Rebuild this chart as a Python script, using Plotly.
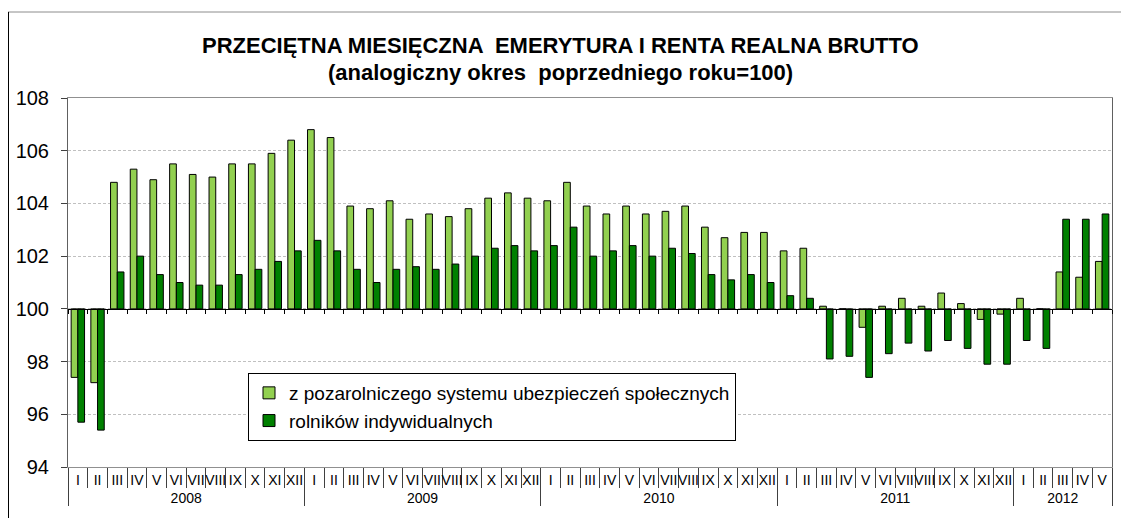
import plotly.graph_objects as go

months = ["I", "II", "III", "IV", "V", "VI", "VII", "VIII", "IX", "X", "XI", "XII"]
years = ["2008", "2009", "2010", "2011", "2012"]
months_per_year = [12, 12, 12, 12, 5]

pozarolniczy = [
    97.4, 97.2, 104.8, 105.3, 104.9, 105.5, 105.1, 105.0, 105.5, 105.5, 105.9, 106.4,
    106.8, 106.5, 103.9, 103.8, 104.1, 103.4, 103.6, 103.5, 103.8, 104.2, 104.4, 104.2,
    104.1, 104.8, 103.9, 103.6, 103.9, 103.6, 103.7, 103.9, 103.1, 102.7, 102.9, 102.9,
    102.2, 102.3, 100.1, 100.0, 99.3, 100.1, 100.4, 100.1, 100.6, 100.2, 99.6, 99.8,
    100.4, 100.0, 101.4, 101.2, 101.8,
]
rolnicy = [
    95.7, 95.4, 101.4, 102.0, 101.3, 101.0, 100.9, 100.9, 101.3, 101.5, 101.8, 102.2,
    102.6, 102.2, 101.5, 101.0, 101.5, 101.6, 101.5, 101.7, 102.0, 102.3, 102.4, 102.2,
    102.4, 103.1, 102.0, 102.2, 102.4, 102.0, 102.3, 102.1, 101.3, 101.1, 101.3, 101.0,
    100.5, 100.4, 98.1, 98.2, 97.4, 98.3, 98.7, 98.4, 98.8, 98.5, 97.9, 97.9,
    98.8, 98.5, 103.4, 103.4, 103.6,
]
series_names = ["z pozarolniczego systemu ubezpieczeń społecznych", "rolników indywidualnych"]
colors = ["#92D050", "#008000"]
BASE = 100
Y_MIN, Y_MAX = 94, 108

x_year = []
x_month = []
for yr, n in zip(years, months_per_year):
    for m in months[:n]:
        x_year.append(yr)
        x_month.append(m)
n_cat = len(x_month)

fig = go.Figure()
for name, vals, col in zip(series_names, [pozarolniczy, rolnicy], colors):
    fig.add_trace(go.Bar(
        x=[x_year, x_month],
        y=[v - BASE for v in vals],
        base=BASE,
        name=name,
        marker=dict(color=col, line=dict(color="#000000", width=1)),
    ))

# helper trace for baseline axis at 100
fig.add_trace(go.Scatter(x=[0], y=[BASE], xaxis="x2", mode="markers",
                         marker=dict(opacity=0), showlegend=False, hoverinfo="skip"))

# plot area in screen pixels (page body has an 8px margin)
PL, PR, PT, PB = 68, 1112, 98, 467
PW, PH = PR - PL, PB - PT
OFF = 8

def px(x):
    return (x - PL) / PW

def py(y):
    return (PB - y) / PH

font = "Liberation Sans, Arial, sans-serif"
fig.update_layout(
    width=1129, height=518,
    margin=dict(l=PL - OFF, r=1129 - (PR - OFF), t=PT - OFF, b=518 - (PB - OFF)),
    paper_bgcolor="white", plot_bgcolor="white",
    barmode="group", bargap=0.32, bargroupgap=0,
    font=dict(family=font, color="#000000"),
    showlegend=True,
    legend=dict(
        x=px(248), y=py(373), xanchor="left", yanchor="top",
        bordercolor="#000000", borderwidth=1, bgcolor="white",
        font=dict(size=19, family=font), tracegroupgap=0,
        traceorder="normal",
    ),
    xaxis=dict(
        type="multicategory", range=[-0.5, n_cat - 0.5], automargin=False,
        showline=True, linecolor="#909090", mirror=True,
        ticks="outside", ticklen=20, tickcolor="#404040", tickangle=0,
        showdividers=True, dividercolor="#404040", dividerwidth=1,
        tickfont=dict(size=14, family=font),
        showgrid=False, zeroline=False,
    ),
    xaxis2=dict(
        overlaying="x", anchor="free", position=(BASE - Y_MIN) / (Y_MAX - Y_MIN),
        range=[-0.5, n_cat - 0.5], automargin=False,
        tickmode="array", tickvals=[i - 0.5 for i in range(n_cat + 1)],
        ticks="outside", ticklen=4, tickcolor="#000000",
        showticklabels=False, showline=True, linecolor="#000000", linewidth=1,
        showgrid=False, zeroline=False,
    ),
    yaxis=dict(
        range=[Y_MIN, Y_MAX], dtick=2, tick0=Y_MIN, automargin=False,
        ticks="outside", ticklen=6, tickcolor="#404040",
        showline=True, linecolor="#606060", mirror=True,
        showgrid=True, gridcolor="#c0c0c0", griddash="3px,2px", gridwidth=1,
        tickfont=dict(size=20, family=font), zeroline=False,
        ticklabelstandoff=8,
    ),
    annotations=[
        dict(text="<b>PRZECIĘTNA MIESIĘCZNA  EMERYTURA I RENTA REALNA BRUTTO</b>",
             xref="paper", yref="paper", x=px(560), y=py(45),
             showarrow=False, font=dict(size=22, family=font), xanchor="center", yanchor="middle"),
        dict(text="<b>(analogiczny okres  poprzedniego roku=100)</b>",
             xref="paper", yref="paper", x=px(560), y=py(72),
             showarrow=False, font=dict(size=22, family=font), xanchor="center", yanchor="middle"),
    ],
    shapes=[
        dict(type="line", xref="paper", yref="paper", x0=px(8), x1=1.1,
             y0=py(12), y1=py(12), line=dict(color="#8c8c8c", width=1)),
        dict(type="line", xref="paper", yref="paper", x0=px(8.5), x1=px(8.5),
             y0=py(12), y1=-0.3, line=dict(color="#000000", width=1)),
    ],
)

fig.write_html("out.html")
